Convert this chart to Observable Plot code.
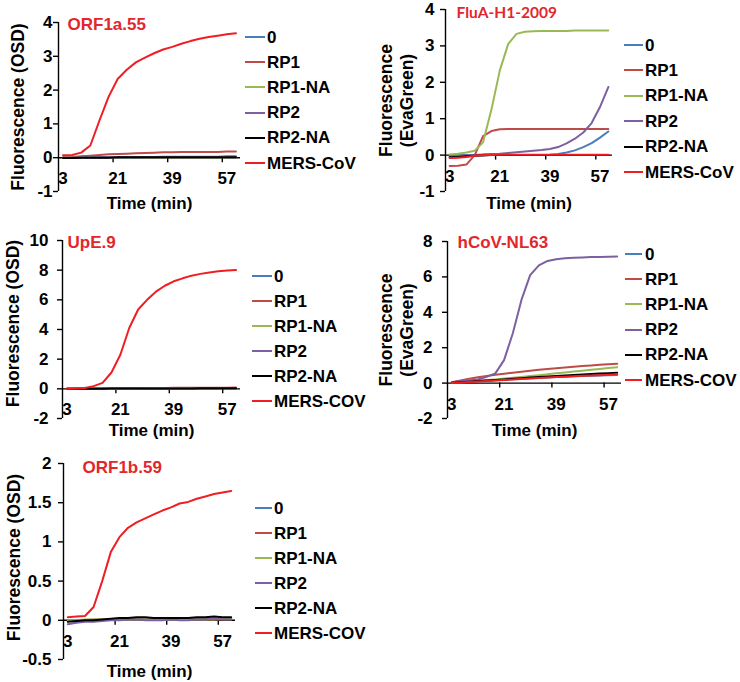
<!DOCTYPE html>
<html><head><meta charset="utf-8">
<script src="https://cdn.jsdelivr.net/npm/d3@7"></script>
<script src="https://cdn.jsdelivr.net/npm/@observablehq/plot@0.6"></script>
<style>
body{margin:0;background:#fff;}
#root{position:relative;width:740px;height:682px;overflow:hidden;background:#fff;}
.panel{position:absolute;}
.leg{position:absolute;font:bold 17px "Liberation Sans",Arial,sans-serif;color:#000;white-space:nowrap;line-height:20px;}
.sw{position:absolute;height:2px;}
</style></head><body><div id="root"></div>
<script>
// ---- data ----
const time = [3,6,9,12,15,18,21,24,27,30,33,36,39,42,45,48,51,54,57,60];
const xTickLabels = [3,21,39,57];
const xTickMarks = [19.5,37.5,55.5];
const seriesColors = ["#4a7ebb","#be4b48","#98b954","#7d60a0","#000000","#f01e23"];
const legendA = ["0","RP1","RP1-NA","RP2","RP2-NA","MERS-CoV"];
const legendB = ["0","RP1","RP1-NA","RP2","RP2-NA","MERS-COV"];

// series order: 0, RP1, RP1-NA, RP2, RP2-NA, MERS
const orf1a55 = [
  [0.00,0.00,0.01,0.01,0.01,0.01,0.01,0.01,0.01,0.02,0.02,0.02,0.02,0.02,0.02,0.02,0.02,0.02,0.02,0.02],
  [0.01,0.02,0.04,0.06,0.08,0.10,0.11,0.12,0.13,0.14,0.15,0.16,0.16,0.17,0.17,0.17,0.17,0.17,0.18,0.18],
  [0.00,0.00,0.00,0.01,0.01,0.01,0.01,0.01,0.01,0.01,0.01,0.01,0.01,0.01,0.01,0.01,0.01,0.01,0.01,0.01],
  [0.00,0.00,0.01,0.01,0.01,0.01,0.02,0.02,0.02,0.02,0.02,0.03,0.03,0.03,0.03,0.03,0.03,0.03,0.04,0.04],
  [-0.01,-0.01,0.00,0.00,0.00,0.00,0.01,0.01,0.01,0.01,0.01,0.01,0.01,0.01,0.01,0.01,0.01,0.01,0.01,0.01],
  [0.07,0.08,0.15,0.36,1.10,1.80,2.33,2.60,2.82,2.96,3.09,3.20,3.28,3.37,3.45,3.52,3.57,3.61,3.65,3.68]
];
const fluAH1 = [
  [0.00,0.00,0.00,0.00,0.00,0.00,0.00,0.00,0.00,0.00,0.00,0.00,0.01,0.03,0.07,0.13,0.22,0.33,0.48,0.65],
  [-0.30,-0.29,-0.26,0.00,0.52,0.66,0.71,0.72,0.72,0.72,0.72,0.72,0.72,0.72,0.72,0.72,0.72,0.72,0.72,0.72],
  [0.02,0.04,0.07,0.12,0.35,1.25,2.32,3.05,3.33,3.39,3.40,3.41,3.41,3.41,3.41,3.42,3.42,3.42,3.42,3.42],
  [-0.05,-0.03,-0.01,0.00,0.02,0.03,0.04,0.06,0.08,0.10,0.12,0.14,0.17,0.22,0.32,0.45,0.62,0.88,1.32,1.87],
  [-0.06,-0.05,-0.03,-0.02,-0.01,0.00,0.00,0.00,0.00,0.00,0.00,0.00,0.00,0.00,0.00,0.00,0.00,0.00,0.00,0.00],
  [-0.08,-0.07,-0.05,-0.02,0.00,0.00,0.01,0.01,0.01,0.01,0.01,0.01,0.01,0.01,0.01,0.01,0.01,0.01,0.01,0.01]
];
const upE9 = [
  [0.01,0.02,0.02,0.02,0.03,0.02,0.03,0.03,0.03,0.03,0.03,0.04,0.03,0.04,0.04,0.04,0.04,0.04,0.05,0.05],
  [0.00,0.01,0.02,0.02,0.03,0.04,0.04,0.05,0.05,0.06,0.06,0.06,0.07,0.07,0.07,0.08,0.08,0.08,0.08,0.09],
  [0.01,0.01,0.02,0.02,0.02,0.03,0.03,0.03,0.03,0.04,0.04,0.04,0.04,0.04,0.05,0.05,0.05,0.05,0.05,0.05],
  [0.01,0.01,0.01,0.02,0.02,0.02,0.02,0.03,0.03,0.03,0.03,0.03,0.03,0.04,0.04,0.04,0.04,0.04,0.04,0.04],
  [0.00,0.00,0.01,0.01,0.01,0.02,0.02,0.02,0.02,0.03,0.03,0.03,0.03,0.03,0.03,0.04,0.04,0.04,0.04,0.04],
  [0.00,0.02,0.05,0.18,0.40,1.10,2.30,4.10,5.35,6.00,6.55,6.95,7.25,7.45,7.63,7.75,7.85,7.92,7.97,8.01]
];
const hCoVNL63 = [
  [0.02,0.04,0.07,0.10,0.13,0.16,0.19,0.22,0.25,0.27,0.30,0.32,0.34,0.36,0.38,0.40,0.42,0.43,0.44,0.46],
  [0.05,0.15,0.25,0.33,0.40,0.47,0.53,0.59,0.64,0.70,0.75,0.80,0.84,0.88,0.92,0.96,1.00,1.03,1.06,1.10],
  [0.02,0.05,0.09,0.13,0.17,0.21,0.26,0.30,0.35,0.40,0.45,0.50,0.55,0.60,0.65,0.70,0.75,0.80,0.85,0.90],
  [0.05,0.10,0.15,0.20,0.35,0.55,1.30,2.80,4.70,6.10,6.65,6.90,7.00,7.05,7.08,7.10,7.12,7.13,7.14,7.15],
  [0.02,0.05,0.08,0.12,0.15,0.18,0.21,0.25,0.28,0.31,0.34,0.37,0.40,0.43,0.46,0.49,0.52,0.54,0.56,0.58],
  [0.00,0.03,0.06,0.09,0.12,0.15,0.18,0.20,0.23,0.26,0.29,0.31,0.34,0.36,0.38,0.41,0.43,0.45,0.47,0.50]
];
const orf1b59 = [
  [-0.01,-0.01,0.00,0.00,0.00,0.01,0.01,0.01,0.01,0.01,0.01,0.01,0.01,0.01,0.01,0.02,0.02,0.02,0.02,0.02],
  [0.00,0.00,0.00,0.01,0.01,0.01,0.01,0.01,0.01,0.01,0.01,0.01,0.01,0.01,0.01,0.01,0.01,0.01,0.01,0.01],
  [0.00,0.00,0.01,0.01,0.01,0.01,0.01,0.01,0.01,0.01,0.01,0.01,0.01,0.01,0.01,0.01,0.01,0.01,0.02,0.02],
  [-0.05,-0.03,-0.02,-0.02,-0.01,0.00,0.00,0.01,0.01,0.00,0.00,0.00,0.01,0.00,0.00,0.01,0.01,0.02,0.01,0.01],
  [-0.02,-0.01,0.00,0.00,0.01,0.02,0.03,0.03,0.04,0.04,0.03,0.03,0.03,0.03,0.03,0.04,0.04,0.05,0.04,0.04],
  [0.04,0.05,0.055,0.17,0.50,0.87,1.06,1.18,1.25,1.30,1.35,1.40,1.44,1.49,1.51,1.55,1.58,1.61,1.63,1.65]
];

// ---- layout ----
const FONT = '"Liberation Sans", Arial, sans-serif';
const panels = [
  {title:"ORF1a.55", values:orf1a55, legend:legendA, yLabel:"Fluorescence (OSD)", yDomain:[-1,4], yTicks:[-1,0,1,2,3,4],
   left:0, top:0, w:370, h:220, mL:58, mR:130, mT:22, mB:29, tickPad:1, ylDx:-41, ylDy:0,
   tDx:9, tDy:2, tFont:FONT, tSize:17, legX1:245, legX2:265, legT:267, legY:37, legStep:25.2},
  {title:"FluA-H1-2009", values:fluAH1, legend:legendA, yLabel:"Fluorescence\n(EvaGreen)", yDomain:[-1,4], yTicks:[-1,0,1,2,3,4],
   left:370, top:0, w:370, h:220, mL:75, mR:128, mT:9, mB:29, tickPad:6, ylDx:-50, ylDy:0,
   tDx:11, tDy:4, tFont:'Lato, "Open Sans", sans-serif', tSize:15.5, legX1:624, legX2:643, legT:645, legY:45, legStep:25.4},
  {title:"UpE.9", values:upE9, legend:legendB, yLabel:"Fluorescence (OSD)", yDomain:[-2,10], yTicks:[-2,0,2,4,6,8,10],
   left:0, top:220, w:370, h:220, mL:62, mR:130, mT:20, mB:22, tickPad:9, ylDx:-50, ylDy:-6,
   tDx:5, tDy:2, tFont:FONT, tSize:17, legX1:252, legX2:272, legT:274, legY:276, legStep:25},
  {title:"hCoV-NL63", values:hCoVNL63, legend:legendB, yLabel:"Fluorescence\n(EvaGreen)", yDomain:[-2,8], yTicks:[-2,0,2,4,6,8],
   left:370, top:220, w:370, h:220, mL:77, mR:119, mT:21, mB:22, tickPad:10, ylDx:-52, ylDy:0,
   tDx:10, tDy:1, tFont:FONT, tSize:17, legX1:625, legX2:642, legT:645, legY:254, legStep:25.2},
  {title:"ORF1b.59", values:orf1b59, legend:legendB, yLabel:"Fluorescence (OSD)", yDomain:[-0.5,2], yTicks:[-0.5,0,0.5,1,1.5,2],
   left:0, top:440, w:370, h:242, mL:63, mR:135, mT:23, mB:23, tickPad:7, ylDx:-50, ylDy:-4,
   tDx:19, tDy:4, tFont:FONT, tSize:17, legX1:255, legX2:272, legT:274, legY:508, legStep:25}
];

const root = document.getElementById("root");

for (const p of panels) {
  const lineMarks = p.values.map((vals, si) =>
    Plot.line(time.map((t, i) => ({t, v: vals[i]})), {
      x: "t", y: "v", stroke: seriesColors[si], strokeWidth: 2, strokeLinejoin: "round"
    })
  );
  const chart = Plot.plot({
    width: p.w, height: p.h,
    marginLeft: p.mL, marginRight: p.mR, marginTop: p.mT, marginBottom: p.mB,
    style: {fontFamily: FONT, fontSize: "17px", fontWeight: "bold", color: "#000", background: "transparent", overflow: "visible", maxWidth: "none"},
    x: {domain: [1.5, 61.5], axis: null},
    y: {domain: p.yDomain, axis: null},
    marks: [
      Plot.ruleY([0], {x1: 1.5, x2: 61.5, stroke: "#000", strokeWidth: 1.4}),
      Plot.ruleX(xTickMarks, {x: d => d, y1: 0, y2: 0, insetBottom: -5, stroke: "#000", strokeWidth: 1.4}),
      Plot.text(xTickLabels, {x: d => d, y: 0, dy: 21, fontSize: 17, fontWeight: "bold", textAnchor: "middle", lineAnchor: "middle"}),
      ...lineMarks,
      Plot.ruleX([1.5], {stroke: "#000", strokeWidth: 1.4}),
      Plot.axisY(p.yTicks, {tickSize: 5, tickPadding: p.tickPad, label: null, tickFormat: d => String(d), strokeWidth: 1.4}),
      Plot.text([p.yLabel], {frameAnchor: "left", textAnchor: "middle", lineAnchor: "middle", rotate: -90,
        dx: p.ylDx, dy: p.ylDy, fontSize: 17.5, fontWeight: "bold", lineHeight: 1.2}),
      Plot.text([p.title], {frameAnchor: "top-left", textAnchor: "start", lineAnchor: "middle",
        dx: p.tDx, dy: p.tDy, fill: "#e3262b", fontSize: p.tSize, fontWeight: "bold", fontFamily: p.tFont}),
      Plot.text(["Time (min)"], {frameAnchor: "bottom", textAnchor: "middle", lineAnchor: "middle", dy: 12, fontSize: 17, fontWeight: "bold"})
    ]
  });
  const wrap = document.createElement("div");
  wrap.className = "panel";
  wrap.style.left = p.left + "px";
  wrap.style.top = p.top + "px";
  wrap.style.width = p.w + "px";
  wrap.style.height = p.h + "px";
  wrap.appendChild(chart);
  root.appendChild(wrap);

  // legend
  p.legend.forEach((name, i) => {
    const y = p.legY + i * p.legStep;
    const sw = document.createElement("div");
    sw.className = "sw";
    sw.style.left = p.legX1 + "px";
    sw.style.width = (p.legX2 - p.legX1) + "px";
    sw.style.top = (y - 1) + "px";
    sw.style.background = seriesColors[i];
    root.appendChild(sw);
    const lab = document.createElement("div");
    lab.className = "leg";
    lab.style.left = p.legT + "px";
    lab.style.top = (y - 9.5) + "px";
    lab.textContent = name;
    root.appendChild(lab);
  });
}
</script></body></html>
